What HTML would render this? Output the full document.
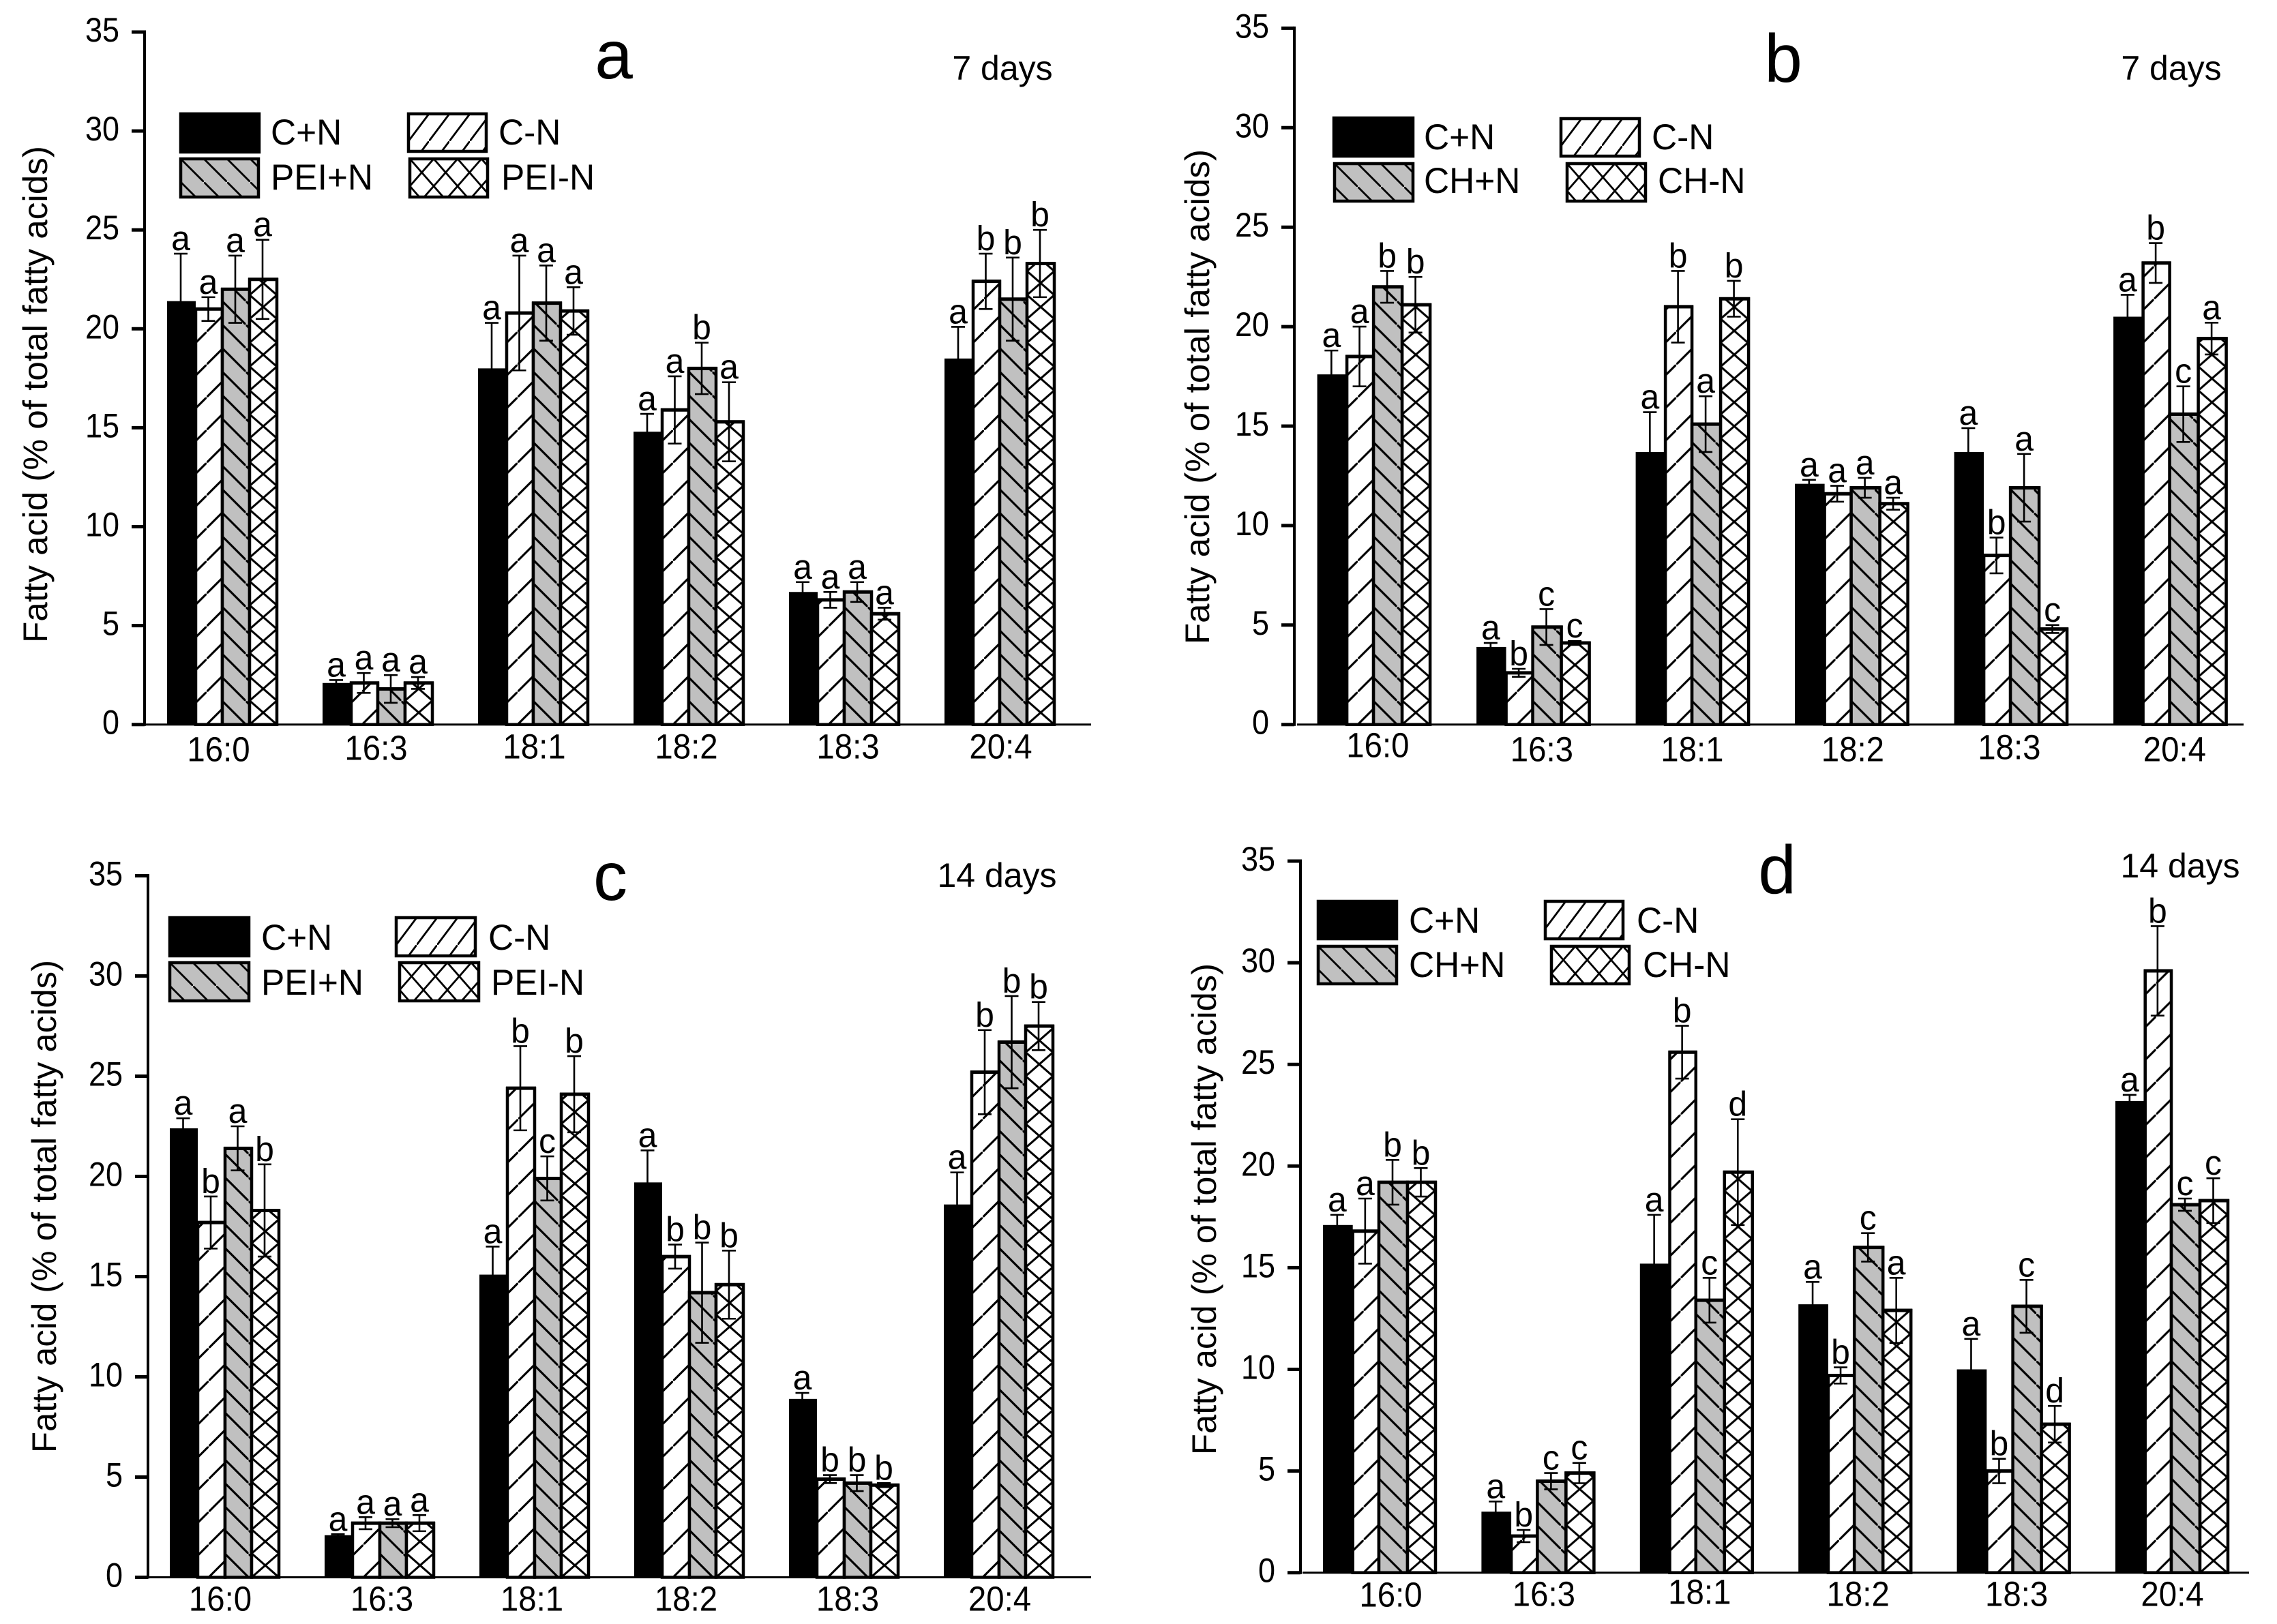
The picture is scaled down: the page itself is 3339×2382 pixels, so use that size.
<!DOCTYPE html>
<html lang="en">
<head>
<meta charset="utf-8">
<title>Fatty acid composition bar charts</title>
<style>
html,body{margin:0;padding:0;background:#fff;}
svg{display:block;}
text{font-family:"Liberation Sans",Arial,sans-serif;fill:#000;}
</style>
</head>
<body>
<svg id="figure" xmlns="http://www.w3.org/2000/svg" width="3339" height="2382" viewBox="0 0 3339 2382">
  <defs>
    <pattern id="hatch-up" patternUnits="userSpaceOnUse" width="48" height="48" patternTransform="translate(16,0)">
      <rect width="48" height="48" fill="#fff"/>
      <path d="M-4,52 L52,-4" stroke="#000" stroke-width="3.1" fill="none"/>
    </pattern>
    <pattern id="hatch-down" patternUnits="userSpaceOnUse" width="34.5" height="34.5">
      <rect width="34.5" height="34.5" fill="#c0c0c0"/>
      <path d="M-4,-4 L38.5,38.5" stroke="#000" stroke-width="3.1" fill="none"/>
    </pattern>
    <pattern id="hatch-cross" patternUnits="userSpaceOnUse" width="40" height="35">
      <rect width="40" height="35" fill="#fff"/>
      <path d="M0,0 L40,35 M40,0 L0,35" stroke="#000" stroke-width="3.1" fill="none"/>
    </pattern>
    <pattern id="legend-up" patternUnits="userSpaceOnUse" width="30" height="40">
      <rect width="30" height="40" fill="#fff"/>
      <path d="M-3,44 L33,-4" stroke="#000" stroke-width="2.8" fill="none"/>
    </pattern>
    <pattern id="legend-down" patternUnits="userSpaceOnUse" width="34" height="34">
      <rect width="34" height="34" fill="#c0c0c0"/>
      <path d="M-4,-4 L38,38" stroke="#000" stroke-width="2.8" fill="none"/>
    </pattern>
    <pattern id="legend-cross" patternUnits="userSpaceOnUse" width="35" height="40">
      <rect width="35" height="40" fill="#fff"/>
      <path d="M0,0 L35,40 M35,0 L0,40" stroke="#000" stroke-width="2.8" fill="none"/>
    </pattern>
  </defs>
</svg>
<script>
// ---- shared data ----
const categories = ['16:0', '16:3', '18:1', '18:2', '18:3', '20:4'];
const yTicks = [0, 5, 10, 15, 20, 25, 30, 35];

// ---- panel a: rows follow categories, columns follow legend order ----
const aLegend = ['C+N', 'C-N', 'PEI+N', 'PEI-N'];
const aMeans = [
  [21.4, 21.0, 22.0, 22.5],
  [2.1, 2.1, 1.8, 2.1],
  [18.0, 20.8, 21.3, 20.9],
  [14.8, 15.9, 18.0, 15.3],
  [6.7, 6.3, 6.7, 5.6],
  [18.5, 22.4, 21.5, 23.3]
];
const aErrors = [
  [2.4, 0.6, 1.7, 2.0],
  [0.15, 0.5, 0.7, 0.3],
  [2.3, 2.9, 1.9, 1.2],
  [0.9, 1.7, 1.3, 2.0],
  [0.5, 0.4, 0.5, 0.3],
  [1.6, 1.4, 2.1, 1.7]
];
const aLetters = [
  ['a', 'a', 'a', 'a'],
  ['a', 'a', 'a', 'a'],
  ['a', 'a', 'a', 'a'],
  ['a', 'a', 'b', 'a'],
  ['a', 'a', 'a', 'a'],
  ['a', 'b', 'b', 'b']
];

// ---- panel b ----
const bLegend = ['C+N', 'C-N', 'CH+N', 'CH-N'];
const bMeans = [
  [17.6, 18.5, 22.0, 21.1],
  [3.9, 2.6, 4.9, 4.1],
  [13.7, 21.0, 15.1, 21.4],
  [12.1, 11.6, 11.9, 11.1],
  [13.7, 8.5, 11.9, 4.8],
  [20.5, 23.2, 15.6, 19.4]
];
const bErrors = [
  [1.2, 1.5, 0.8, 1.4],
  [0.2, 0.2, 0.9, 0.1],
  [2.0, 1.8, 1.4, 0.9],
  [0.2, 0.4, 0.5, 0.3],
  [1.2, 0.9, 1.7, 0.2],
  [1.1, 1.0, 1.4, 0.8]
];
const bLetters = [
  ['a', 'a', 'b', 'b'],
  ['a', 'b', 'c', 'c'],
  ['a', 'b', 'a', 'b'],
  ['a', 'a', 'a', 'a'],
  ['a', 'b', 'a', 'c'],
  ['a', 'b', 'c', 'a']
];

// ---- panel c ----
const cLegend = ['C+N', 'C-N', 'PEI+N', 'PEI-N'];
const cMeans = [
  [22.4, 17.7, 21.4, 18.3],
  [2.1, 2.7, 2.7, 2.7],
  [15.1, 24.4, 19.9, 24.1],
  [19.7, 16.0, 14.2, 14.6],
  [8.9, 4.9, 4.7, 4.6],
  [18.6, 25.2, 26.7, 27.5]
];
const cErrors = [
  [0.5, 1.3, 1.1, 2.3],
  [0.05, 0.3, 0.2, 0.4],
  [1.4, 2.1, 1.1, 1.9],
  [1.6, 0.6, 2.5, 1.7],
  [0.3, 0.2, 0.4, 0.1],
  [1.6, 2.1, 2.3, 1.2]
];
const cLetters = [
  ['a', 'b', 'a', 'b'],
  ['a', 'a', 'a', 'a'],
  ['a', 'b', 'c', 'b'],
  ['a', 'b', 'b', 'b'],
  ['a', 'b', 'b', 'b'],
  ['a', 'b', 'b', 'b']
];

// ---- panel d ----
const dLegend = ['C+N', 'C-N', 'CH+N', 'CH-N'];
const dMeans = [
  [17.1, 16.8, 19.2, 19.2],
  [3.0, 1.8, 4.5, 4.9],
  [15.2, 25.6, 13.4, 19.7],
  [13.2, 9.7, 16.0, 12.9],
  [10.0, 5.0, 13.1, 7.3],
  [23.2, 29.6, 18.1, 18.3]
];
const dErrors = [
  [0.5, 1.6, 1.1, 0.7],
  [0.5, 0.3, 0.4, 0.5],
  [2.4, 1.3, 1.1, 2.6],
  [1.1, 0.4, 0.7, 1.6],
  [1.5, 0.6, 1.3, 0.9],
  [0.3, 2.2, 0.3, 1.1]
];
const dLetters = [
  ['a', 'a', 'b', 'b'],
  ['a', 'b', 'c', 'c'],
  ['a', 'b', 'c', 'd'],
  ['a', 'b', 'c', 'a'],
  ['a', 'b', 'c', 'd'],
  ['a', 'b', 'c', 'c']
];

// ---- drawing ----
const svgNS = 'http://www.w3.org/2000/svg';
const root = document.getElementById('figure');

function make(tag, parent, attrs) {
  const node = document.createElementNS(svgNS, tag);
  for (const key in attrs) node.setAttribute(key, attrs[key]);
  parent.appendChild(node);
  return node;
}
function label(parent, x, y, str, size, anchor, sx) {
  const node = make('text', parent, {
    transform: 'translate(' + x + ',' + y + ') scale(' + sx + ',1)',
    'font-size': size,
    'text-anchor': anchor
  });
  node.textContent = str;
  return node;
}

function drawPanel(p) {
  const g = make('g', root, {});
  
  

  const yScale = function (v) { return p.y0 - v * p.unit; };
  const xBand = function (i) { return p.x0 + i * p.step; };
  const barEdges = p.barEdges;

  // bars
  const fills = ['#000', 'url(#hatch-up)', 'url(#hatch-down)', 'url(#hatch-cross)'];
  p.means.forEach(function (row, i) {
    const group = make('g', g, {});
    
    
    row.forEach(function (value, s) {
      const left = xBand(i) + barEdges[s];
      const width = barEdges[s + 1] - barEdges[s];
      const h = p.y0 - yScale(value);
      const bar = make('rect', group, {
        x: 0, y: -h, width: width, height: h,
        transform: 'translate(' + left + ',' + p.y0 + ')',
        fill: fills[s],
        stroke: '#000',
        'stroke-width': s === 0 ? 0 : 4.5
      });
      
      
      if (s > 0) {
        // heavier cap along the bar top, as in the print
        const cap = make('line', group, {
          x1: left - 2, x2: left + width + 2, y1: yScale(value), y2: yScale(value),
          stroke: '#000', 'stroke-width': 5
        });
        
        
      }
    });
    row.forEach(function (value, s) {
      const err = p.errors[i][s];
      const cx = xBand(i) + (barEdges[s] + barEdges[s + 1]) / 2 - 1;
      const top = yScale(value + err);
      const bottom = yScale(Math.max(value - err, 0));
      const e = make('path', group, {
        d: 'M' + cx + ',' + top + 'V' + bottom +
           'M' + (cx - 10) + ',' + top + 'H' + (cx + 10) +
           'M' + (cx - 10) + ',' + bottom + 'H' + (cx + 10),
        stroke: '#000', 'stroke-width': 2.6, fill: 'none'
      });
      
      
      const t = label(group, cx, top - 5, p.letters[i][s], 51, 'middle', 0.98);
      
      
    });
  });

  // x axis
  const xAxis = make('line', g, {
    x1: p.axisX + p.baseGap, x2: p.axisEnd, y1: p.y0, y2: p.y0,
    stroke: '#000', 'stroke-width': 3
  });
  
  
  categories.forEach(function (cat, i) {
    const cx = xBand(i) + barEdges[4] / 2 + p.labelDx[i];
    const t = label(g, cx, p.y0 + p.labelDy[i], cat, 51, 'middle', 0.93);
    
    
  });

  // y axis
  const yAxis = make('line', g, {
    x1: p.axisX, x2: p.axisX, y1: yScale(35) - 2.5, y2: p.y0 + 2,
    stroke: '#000', 'stroke-width': 4
  });
  
  
  yTicks.forEach(function (v) {
    const tick = make('line', g, {
      x1: p.axisX - 19, x2: p.axisX, y1: yScale(v), y2: yScale(v),
      stroke: '#000', 'stroke-width': 5
    });
    
    
    const t = label(g, p.axisX - 37, yScale(v) + 14, String(v), 50, 'end', 0.9);
    
    
  });

  // y title
  const title = make('text', g, {
    transform: 'rotate(-90 ' + p.titleX + ' ' + p.titleBottom + ')',
    x: p.titleX, y: p.titleBottom,
    'font-size': 50,
    textLength: p.titleLength,
    lengthAdjust: 'spacingAndGlyphs'
  });
  title.textContent = 'Fatty acid (% of total fatty acids)';
  
  

  // panel letter & duration
  const panelLetter = label(g, p.letterX, p.letterY, p.id, 100, 'middle', 1);
  
  
  const days = label(g, p.daysX, p.daysY, p.days, 50, 'middle', 1);
  
  

  // legend
  const legendFills = ['#000', 'url(#legend-up)', 'url(#legend-down)', 'url(#legend-cross)'];
  const lg = make('g', g, {});
  
  
  p.legend.forEach(function (name, s) {
    const spot = p.legendSpots[s];
    const swatch = make('rect', lg, {
      x: 0, y: 0, width: spot[2], height: spot[3],
      transform: 'translate(' + spot[0] + ',' + spot[1] + ')',
      fill: legendFills[s], stroke: '#000', 'stroke-width': 4.5
    });
    
    
    const t = label(lg, spot[4], spot[5], name, 53, 'start', 0.97);
    
    
  });
}

drawPanel({
  id: 'a', days: '7 days', legend: aLegend, means: aMeans, errors: aErrors, letters: aLetters,
  axisX: 212, axisEnd: 1600, baseGap: 0, y0: 1062.7, unit: 29.02,
  x0: 245, step: 228, barEdges: [0, 42, 81, 121, 161],
  labelDx: [-5, -2, 2, -3, 6, 2], labelDy: [54, 52, 50, 50, 50, 50],
  titleX: 69, titleBottom: 943, titleLength: 729,
  letterX: 900, letterY: 115, daysX: 1470, daysY: 117,
  legendSpots: [
    [265, 167, 115, 56, 397, 212],
    [599, 167, 114, 55, 731, 212],
    [265, 233, 114, 56, 397, 278],
    [601, 233, 114, 56, 735, 278]
  ]
});
drawPanel({
  id: 'b', days: '7 days', legend: bLegend, means: bMeans, errors: bErrors, letters: bLetters,
  axisX: 1898, axisEnd: 3290, baseGap: 4, y0: 1062.7, unit: 29.18,
  x0: 1931.6, step: 233.5, barEdges: [0, 43.5, 82.5, 124.5, 165.5],
  labelDx: [6, 13, 0, 2, -2, 7], labelDy: [48, 54, 54, 54, 51, 54],
  titleX: 1773, titleBottom: 945, titleLength: 726,
  letterX: 2615, letterY: 120, daysX: 3184, daysY: 117,
  legendSpots: [
    [1956, 173, 116, 56, 2088, 219],
    [2289, 174, 115, 55, 2422, 219],
    [1957, 240, 115, 55, 2088, 283],
    [2298, 240, 115, 55, 2431, 283]
  ]
});
drawPanel({
  id: 'c', days: '14 days', legend: cLegend, means: cMeans, errors: cErrors, letters: cLetters,
  axisX: 217, axisEnd: 1600, baseGap: 0, y0: 2313.5, unit: 29.4,
  x0: 249, step: 227, barEdges: [0, 41, 81, 120, 160],
  labelDx: [-6, 4, -3, -4, 6, 2], labelDy: [49, 49, 49, 49, 49, 49],
  titleX: 82, titleBottom: 2131, titleLength: 723,
  letterX: 895, letterY: 1320, daysX: 1462, daysY: 1301,
  legendSpots: [
    [249, 1346, 116, 56, 383, 1393],
    [581, 1346, 116, 56, 716, 1393],
    [249, 1412, 116, 56, 383, 1459],
    [586, 1412, 116, 56, 720, 1459]
  ]
});
drawPanel({
  id: 'd', days: '14 days', legend: dLegend, means: dMeans, errors: dErrors, letters: dLetters,
  axisX: 1907, axisEnd: 3298, baseGap: 3, y0: 2306.7, unit: 29.82,
  x0: 1940, step: 232.4, barEdges: [0, 43.7, 82, 124, 165],
  labelDx: [17, 9, 5, 5, 5, 1], labelDy: [50, 49, 46, 49, 49, 49],
  titleX: 1783, titleBottom: 2134, titleLength: 721,
  letterX: 2606, letterY: 1310, daysX: 3197, daysY: 1287,
  legendSpots: [
    [1933, 1322, 115, 55, 2066, 1368],
    [2266, 1322, 114, 55, 2400, 1368],
    [1933, 1388, 115, 55, 2066, 1433],
    [2275, 1388, 114, 55, 2409, 1433]
  ]
});
</script>
</body>
</html>
